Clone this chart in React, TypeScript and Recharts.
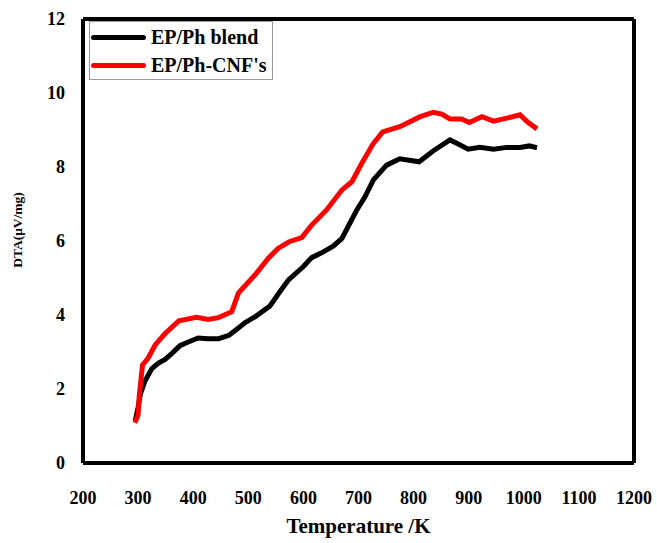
import { LineChart, Line, XAxis, YAxis, ReferenceLine, Label } from 'recharts';

const xTicks = [200, 300, 400, 500, 600, 700, 800, 900, 1000, 1100, 1200];
const yTicks = [0, 2, 4, 6, 8, 10, 12];

const blendTemp = [295, 300, 304, 312, 325, 337, 349, 362, 376, 391, 409, 427, 446, 465, 478, 495, 512, 539, 556, 573, 600, 615, 633, 654, 670, 685, 697, 712, 727, 751, 775, 810, 836, 866, 881, 899, 920, 945, 969, 993, 1010, 1024];
const blendDta = [1.15, 1.5, 1.85, 2.2, 2.55, 2.7, 2.8, 2.97, 3.17, 3.27, 3.38, 3.36, 3.36, 3.45, 3.6, 3.8, 3.95, 4.24, 4.6, 4.95, 5.31, 5.55, 5.68, 5.86, 6.07, 6.5, 6.84, 7.2, 7.65, 8.05, 8.22, 8.14, 8.44, 8.73, 8.62, 8.48, 8.53, 8.48, 8.53, 8.53, 8.57, 8.52];

const cnfTemp = [294, 300, 302, 308, 318, 331, 349, 374, 406, 427, 446, 470, 482, 512, 536, 554, 574, 597, 615, 642, 670, 688, 706, 727, 744, 775, 812, 836, 851, 866, 887, 901, 924, 945, 969, 993, 1008, 1024];
const cnfDta = [1.09, 1.3, 1.8, 2.65, 2.83, 3.19, 3.5, 3.84, 3.94, 3.88, 3.93, 4.09, 4.59, 5.08, 5.53, 5.8, 5.98, 6.09, 6.43, 6.84, 7.38, 7.6, 8.1, 8.64, 8.95, 9.09, 9.36, 9.48, 9.43, 9.3, 9.3, 9.2, 9.36, 9.24, 9.32, 9.41, 9.2, 9.03];

const blendData = blendTemp.map((t, i) => ({ t, v: blendDta[i] }));
const cnfData = cnfTemp.map((t, i) => ({ t, v: cnfDta[i] }));

const font = '"Liberation Serif", "Times New Roman", serif';

const LegendBox = () => (
  <div style={{
    position: 'absolute', left: 89, top: 21, width: 184, height: 59,
    border: '1px solid #999', background: '#fff', boxSizing: 'border-box',
    fontFamily: font, fontWeight: 'bold', fontSize: 20, color: '#000',
  }}>
    {[['EP/Ph blend', '#000'], ["EP/Ph-CNF's", '#ff0000']].map(([name, c], i) => (
      <div key={name} style={{ position: 'absolute', left: 1, top: 3 + i * 28, display: 'flex', alignItems: 'center', height: 24 }}>
        <div style={{ width: 55, height: 5, background: c, borderRadius: 3 }} />
        <span style={{ marginLeft: 5 }}>{name}</span>
      </div>
    ))}
  </div>
);

export default function App() {
  return (
    <div style={{ position: 'absolute', left: 0, top: 0, width: 657, height: 543, background: '#fff' }}>
      <LineChart width={657} height={543} margin={{ top: 19, right: 23, left: 0, bottom: 0 }}>
        <XAxis
          dataKey="t" type="number" domain={[200, 1200]} ticks={xTicks} allowDataOverflow
          axisLine={{ stroke: '#000', strokeWidth: 4 }} tickLine={false} height={80} tickMargin={22}
          tick={{ fill: '#000', fontFamily: font, fontWeight: 'bold', fontSize: 18 }}
          label={{ value: 'Temperature /K', position: 'insideBottom', offset: 10, fill: '#000', fontFamily: font, fontWeight: 'bold', fontSize: 21 }}
        />
        <YAxis
          type="number" domain={[0, 12]} ticks={yTicks}
          axisLine={{ stroke: '#000', strokeWidth: 4 }} tickLine={false} width={83} tickMargin={12}
          tick={{ fill: '#000', fontFamily: font, fontWeight: 'bold', fontSize: 18 }}
        >
          <Label
            content={() => (
              <text x={22} y={230} transform="rotate(-90 22 230)" textAnchor="middle"
                fill="#000" fontFamily={font} fontWeight="bold" fontSize={13.5}>
                DTA(μV/mg)
              </text>
            )}
          />
        </YAxis>
        <ReferenceLine y={12} stroke="#000" strokeWidth={4} />
        <ReferenceLine x={1200} stroke="#000" strokeWidth={4} />
        <Line data={blendData} dataKey="v" name="EP/Ph blend" stroke="#000" strokeWidth={5} dot={false} isAnimationActive={false} />
        <Line data={cnfData} dataKey="v" name="EP/Ph-CNF's" stroke="#ff0000" strokeWidth={5} dot={false} isAnimationActive={false} />
      </LineChart>
      <LegendBox />
    </div>
  );
}
